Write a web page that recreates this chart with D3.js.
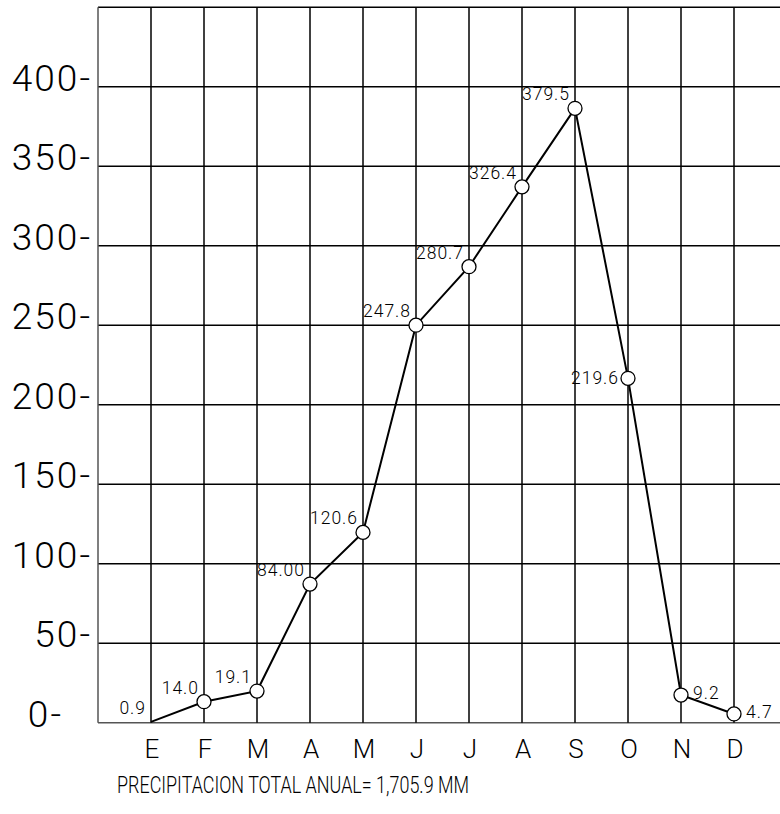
<!DOCTYPE html>
<html>
<head>
<meta charset="utf-8">
<script src="https://cdn.jsdelivr.net/npm/d3@7"></script>
<style>
  body { margin: 0; background: #fff; }
  text { font-family: Roboto, "Liberation Sans", sans-serif; font-weight: 300; fill: #000; }
</style>
</head>
<body>
<div id="chart"></div>
<script>
// months (spanish initials)
const months = ["E", "F", "M", "A", "M", "J", "J", "A", "S", "O", "N", "D"];
// plotted positions (mm)
const values = [0.5, 13.2, 19.9, 87.2, 119.7, 250, 286.8, 337, 386.4, 216.6, 17.4, 5.5];
// printed labels
const labels = ["0.9", "14.0", "19.1", "84.00", "120.6", "247.8", "280.7", "326.4", "379.5", "219.6", "9.2", "4.7"];
// which side each label sits on
const labelSide = ["nw", "nw", "nw", "nw", "nw", "nw", "nw", "nw", "nw", "w", "e", "e"];
const yTicks = [0, 50, 100, 150, 200, 250, 300, 350, 400];
const footer = "PRECIPITACION TOTAL ANUAL= 1,705.9 MM";

const width = 780;
const height = 814;
const GRID_COLOR = "#000";
const AXIS_COLOR = "#555";

const svg = d3.select("#chart")
  .append("svg")
  .attr("width", width)
  .attr("height", height);

// x: index -1 is the left border, grid keeps going to the page edge
const x = d3.scaleLinear().domain([-1, 11]).range([98, 734]);
const y = d3.scaleLinear().domain([0, 450]).range([722.7, 7.2]);

const grid = svg.append("g");

// horizontal lines
grid.selectAll("line.h")
  .data(d3.range(0, 451, 50))
  .enter()
  .append("line")
  .attr("x1", x(-1))
  .attr("x2", width)
  .attr("y1", (d) => y(d))
  .attr("y2", (d) => y(d))
  .attr("stroke", (d) => d === 0 ? AXIS_COLOR : GRID_COLOR)
  .attr("stroke-width", 1.5);

// vertical lines
grid.selectAll("line.v")
  .data(d3.range(-1, 12))
  .enter()
  .append("line")
  .attr("x1", (d) => x(d))
  .attr("x2", (d) => x(d))
  .attr("y1", y(0))
  .attr("y2", y(450))
  .attr("stroke", (d) => d === -1 ? AXIS_COLOR : GRID_COLOR)
  .attr("stroke-width", 1.5);

// y tick labels ("400-" style)
svg.append("g")
  .selectAll("text")
  .data(yTicks)
  .enter()
  .append("text")
  .attr("x", (d) => d === 0 ? 63 : 92)
  .attr("y", (d) => y(d) + 4)
  .attr("text-anchor", "end")
  .style("font-size", "37px")
  .style("letter-spacing", "2px")
  .text((d) => d + "-");

// month labels
svg.append("g")
  .selectAll("text")
  .data(months)
  .enter()
  .append("text")
  .attr("x", (d, i) => x(i) + 1)
  .attr("y", 758)
  .attr("text-anchor", "middle")
  .style("font-size", "26px")
  .text((d) => d);

// the line
const line = d3.line()
  .x((d, i) => x(i))
  .y((d) => y(d));

svg.append("path")
  .attr("d", line(values))
  .attr("fill", "none")
  .attr("stroke", "#000")
  .attr("stroke-width", 2);

// markers (none on the first month)
svg.append("g")
  .selectAll("circle")
  .data(values)
  .enter()
  .filter((d, i) => i > 0)
  .append("circle")
  .attr("cx", (d, i) => x(i + 1))
  .attr("cy", (d) => y(d))
  .attr("r", 7)
  .attr("fill", "#fff")
  .attr("stroke", "#000")
  .attr("stroke-width", 1.3);

function labelOffset(side) {
  if (side === "w") return { dx: -9, dy: 6, anchor: "end" };
  if (side === "e") return { dx: 12, dy: 4, anchor: "start" };
  return { dx: -5, dy: -8, anchor: "end" };
}

svg.append("g")
  .selectAll("text")
  .data(labels)
  .enter()
  .append("text")
  .attr("x", (d, i) => x(i) + labelOffset(labelSide[i]).dx)
  .attr("y", (d, i) => y(values[i]) + labelOffset(labelSide[i]).dy)
  .attr("text-anchor", (d, i) => labelOffset(labelSide[i]).anchor)
  .style("font-size", "17.5px")
  .style("letter-spacing", "1px")
  .text((d) => d);

// footer
svg.append("text")
  .attr("x", 117)
  .attr("y", 792.5)
  .attr("textLength", 352)
  .attr("lengthAdjust", "spacingAndGlyphs")
  .style("font-size", "24px")
  .text(footer);
</script>
</body>
</html>
